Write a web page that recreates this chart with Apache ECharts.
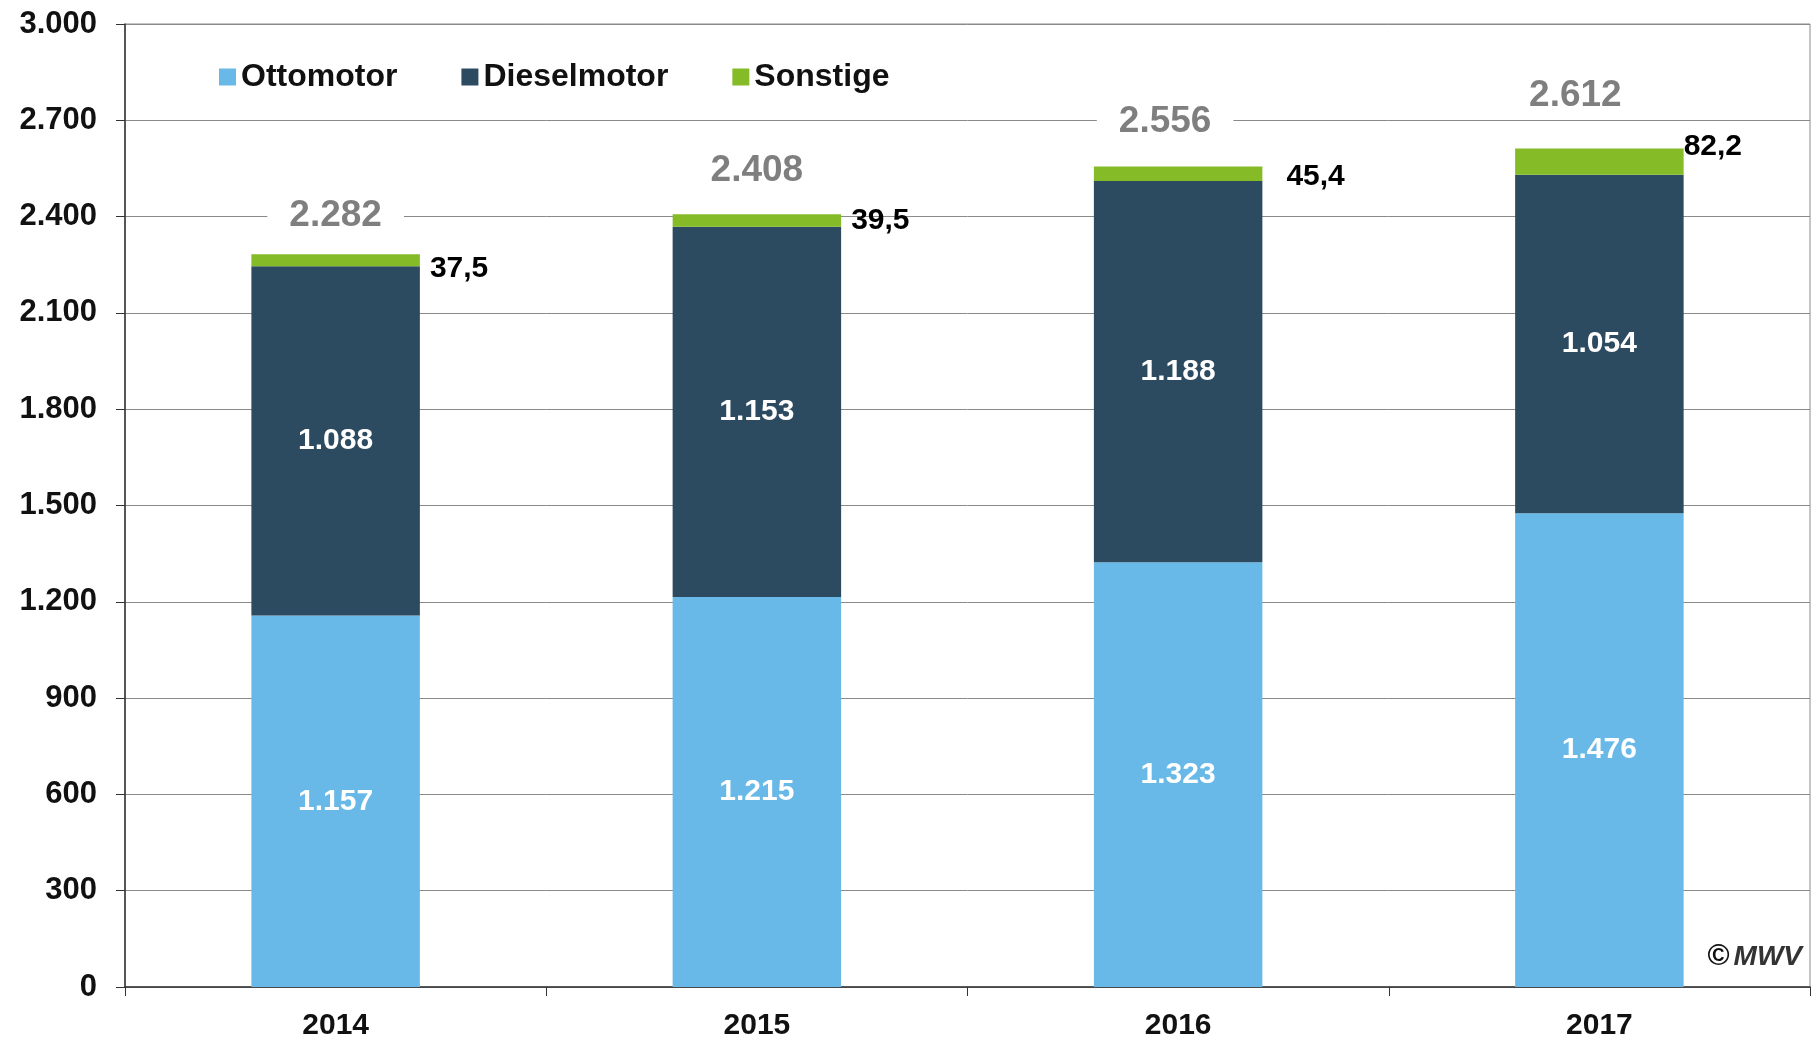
<!DOCTYPE html>
<html>
<head>
<meta charset="utf-8">
<script src="https://cdn.jsdelivr.net/npm/echarts@6/dist/echarts.min.js"></script>
<style>
  html, body { margin: 0; padding: 0; background: #fff; }
  #chart-container { width: 1812px; height: 1041px; }
</style>
</head>
<body>
<div id="chart-container"></div>
<script>
var years = ['2014', '2015', '2016', '2017'];
var otto = [1157, 1215, 1323, 1476];
var diesel = [1088, 1153, 1188, 1054];
var sonstige = [37.5, 39.5, 45.4, 82.2];
var totals = [2282, 2408, 2556, 2612];
var yTicks = [0, 300, 600, 900, 1200, 1500, 1800, 2100, 2400, 2700, 3000];

// label nudges so the labels sit where the original has them
var totalLabelShift = [[0, 4], [0, -1], [-13, -2], [-24, -10]];
var restLabelShift = [[0, 8], [0, 0], [14, 3], [-10, -15]];

var FONT = '"Liberation Sans", Arial, Helvetica, sans-serif';

var fmtDe = function (v) {
  return String(v).replace(/\B(?=(\d{3})+(?!\d))/g, '.');
};
var fmtComma = function (v) {
  return v.toFixed(1).replace('.', ',');
};

var dom = document.getElementById('chart-container');
var myChart = echarts.init(dom, null, { renderer: 'canvas' });

var innerLabel = {
  show: true,
  position: 'inside',
  color: '#fff',
  fontFamily: FONT,
  fontWeight: 'bold',
  fontSize: 30,
  formatter: function (p) { return fmtDe(p.value); }
};

var option = {
  animation: false,
  textStyle: { fontFamily: FONT },
  grid: {
    left: 125,
    right: 2,
    top: 24,
    bottom: 54,
    show: true,
    borderColor: '#8a8a8a',
    borderWidth: 1,
    containLabel: false
  },
  legend: {
    data: ['Ottomotor', 'Dieselmotor', 'Sonstige'],
    left: 214,
    top: 56,
    icon: 'rect',
    itemWidth: 17,
    itemHeight: 17,
    itemGap: 64,
    textStyle: { fontFamily: FONT, fontWeight: 'bold', fontSize: 32, color: '#111' }
  },
  xAxis: {
    type: 'category',
    data: years,
    axisLine: { show: true, lineStyle: { color: '#333', width: 1.5 } },
    axisTick: { show: true, length: 9, alignWithLabel: false, lineStyle: { color: '#333' } },
    axisLabel: { fontFamily: FONT, fontWeight: 'bold', fontSize: 30, color: '#111', margin: 24 }
  },
  yAxis: {
    type: 'value',
    min: yTicks[0],
    max: yTicks[yTicks.length - 1],
    interval: yTicks[1] - yTicks[0],
    axisLine: { show: true, lineStyle: { color: '#333', width: 1.5 } },
    axisTick: { show: true, length: 9, lineStyle: { color: '#333' } },
    splitLine: { show: true, lineStyle: { color: '#8a8a8a', width: 1 } },
    axisLabel: {
      fontFamily: FONT, fontWeight: 'bold', fontSize: 31, color: '#111', margin: 28,
      formatter: function (v) { return fmtDe(v); }
    }
  },
  series: [
    {
      name: 'Ottomotor',
      type: 'bar',
      stack: 'total',
      barWidth: '40%',
      data: otto,
      itemStyle: { color: '#68b9e7' },
      label: innerLabel
    },
    {
      name: 'Dieselmotor',
      type: 'bar',
      stack: 'total',
      data: diesel,
      itemStyle: { color: '#2d4b60' },
      label: innerLabel
    },
    {
      name: 'Sonstige',
      type: 'bar',
      stack: 'total',
      data: sonstige.map(function (v, i) {
        return { value: v, label: { offset: restLabelShift[i] } };
      }),
      itemStyle: { color: '#85bb27' },
      label: {
        show: true,
        position: 'right',
        distance: 10,
        color: '#000',
        fontFamily: FONT,
        fontWeight: 'bold',
        fontSize: 30,
        formatter: function (p) { return fmtComma(p.value); }
      }
    },
    {
      name: 'Gesamt',
      type: 'bar',
      stack: 'total',
      data: years.map(function (y, i) {
        return { value: 0, label: { offset: totalLabelShift[i] } };
      }),
      itemStyle: { color: 'transparent' },
      label: {
        show: true,
        position: 'top',
        distance: 20,
        color: '#7f7f7f',
        fontFamily: FONT,
        fontWeight: 'bold',
        fontSize: 37,
        backgroundColor: '#fff',
        padding: [4, 22],
        formatter: function (p) { return fmtDe(totals[p.dataIndex]); }
      }
    }
  ],
  graphic: [
    {
      type: 'text',
      right: 10,
      top: 942,
      style: {
        text: '{c|\u00a9}{m|MWV}',
        rich: {
          c: { font: 'bold 30px ' + FONT, fill: '#111', padding: [0, 4, 0, 0] },
          m: { font: 'italic bold 28px ' + FONT, fill: '#333' }
        }
      }
    }
  ]
};

myChart.setOption(option);
window.addEventListener('resize', myChart.resize);
</script>
</body>
</html>
